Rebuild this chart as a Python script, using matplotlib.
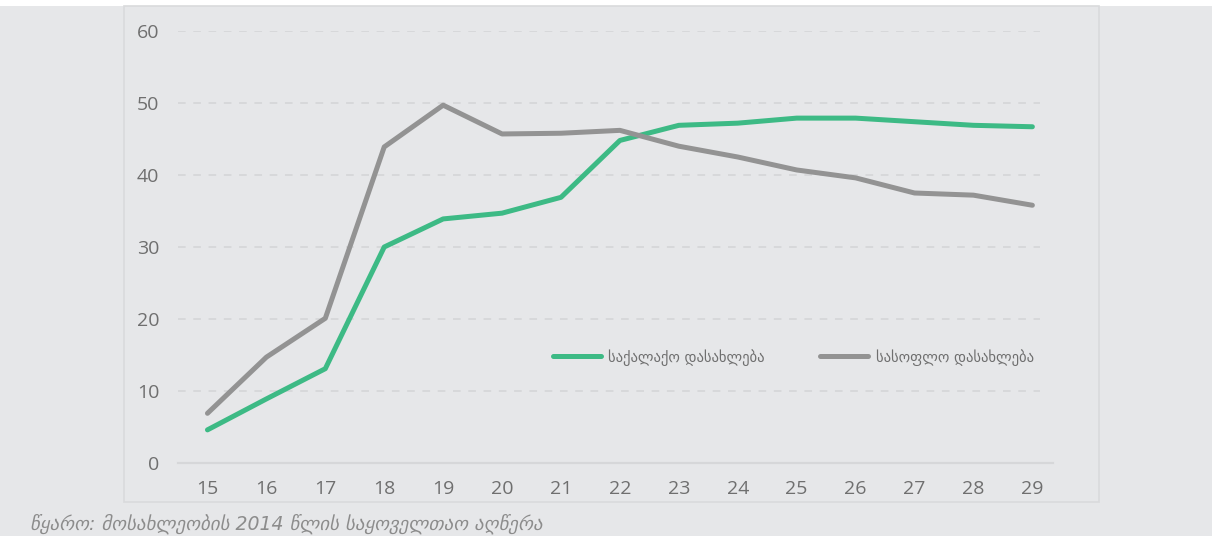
import matplotlib.pyplot as plt
from matplotlib.patches import Rectangle

# ასაკი
ages = list(range(15, 30))
# საქალაქო დასახლება
urban = [4.6, 8.9, 13.1, 30.0, 33.9, 34.7, 36.9, 44.8, 46.9, 47.2, 47.9, 47.9, 47.4, 46.9, 46.7]
# სასოფლო დასახლება
rural = [6.9, 14.7, 20.1, 43.9, 49.7, 45.7, 45.8, 46.2, 44.0, 42.5, 40.7, 39.6, 37.5, 37.2, 35.8]
y_ticks = [0, 10, 20, 30, 40, 50, 60]

bg = '#e6e7e9'
tick_col = '#6f6f6f'

fig = plt.figure(figsize=(12.12, 5.36), dpi=100)
fig.patch.set_facecolor(bg)

# თეთრი ზოლი ზემოთ და ჩარჩო
fig.patches.append(Rectangle((0, 1 - 6 / 536), 1, 6 / 536, transform=fig.transFigure,
                             facecolor='white', edgecolor='none', zorder=0))
fig.patches.append(Rectangle((124 / 1212, 1 - 502 / 536), (1099 - 124) / 1212, (502 - 6) / 536,
                             transform=fig.transFigure, facecolor='none',
                             edgecolor='#d9dadc', linewidth=1.2, zorder=0))

ax = fig.add_axes([178 / 1212, 1 - 463 / 536, (1053 - 178) / 1212, (463 - 31) / 536])
ax.set_facecolor('none')

ax.plot(ages, urban, color='#3dba85', linewidth=3.6, solid_capstyle='round',
        label='საქალაქო დასახლება', zorder=3)
ax.plot(ages, rural, color='#939393', linewidth=3.6, solid_capstyle='round',
        label='სასოფლო დასახლება', zorder=3)

ax.set_xlim(14.5, 29.35)
ax.set_ylim(0, 60)
ax.set_xticks(ages)
ax.set_yticks(y_ticks)
ax.tick_params(length=0, labelcolor=tick_col, labelsize=14)
ax.tick_params(axis='x', pad=12)
ax.tick_params(axis='y', pad=13.5)
for lab in ax.get_xticklabels() + ax.get_yticklabels():
    lab.set_fontfamily('Open Sans')

for v in y_ticks[1:]:
    ax.axhline(v, xmax=0.985, color='#d3d4d6', linewidth=1.1, dashes=(5, 5), zorder=1)

for s in ['top', 'right', 'left']:
    ax.spines[s].set_visible(False)
ax.spines['bottom'].set_color('#d6d7d9')
ax.spines['bottom'].set_linewidth(1.6)

leg = ax.legend(loc='center', bbox_to_anchor=(0.703, 0.245), ncol=2, frameon=False,
                handlelength=3.3, handletextpad=0.5, columnspacing=3.8,
                prop={'family': 'DejaVu Sans', 'size': 10.5})
for t in leg.get_texts():
    t.set_color(tick_col)

# წყარო
fig.text(30 / 1212, 1.5 / 536, 'წყარო: მოსახლეობის 2014 წლის საყოველთაო აღწერა',
         ha='left', va='bottom', fontsize=13.6, style='italic', color='#8c8c8c',
         family='DejaVu Sans')

fig.savefig('out.png', dpi=100, facecolor=fig.get_facecolor())
